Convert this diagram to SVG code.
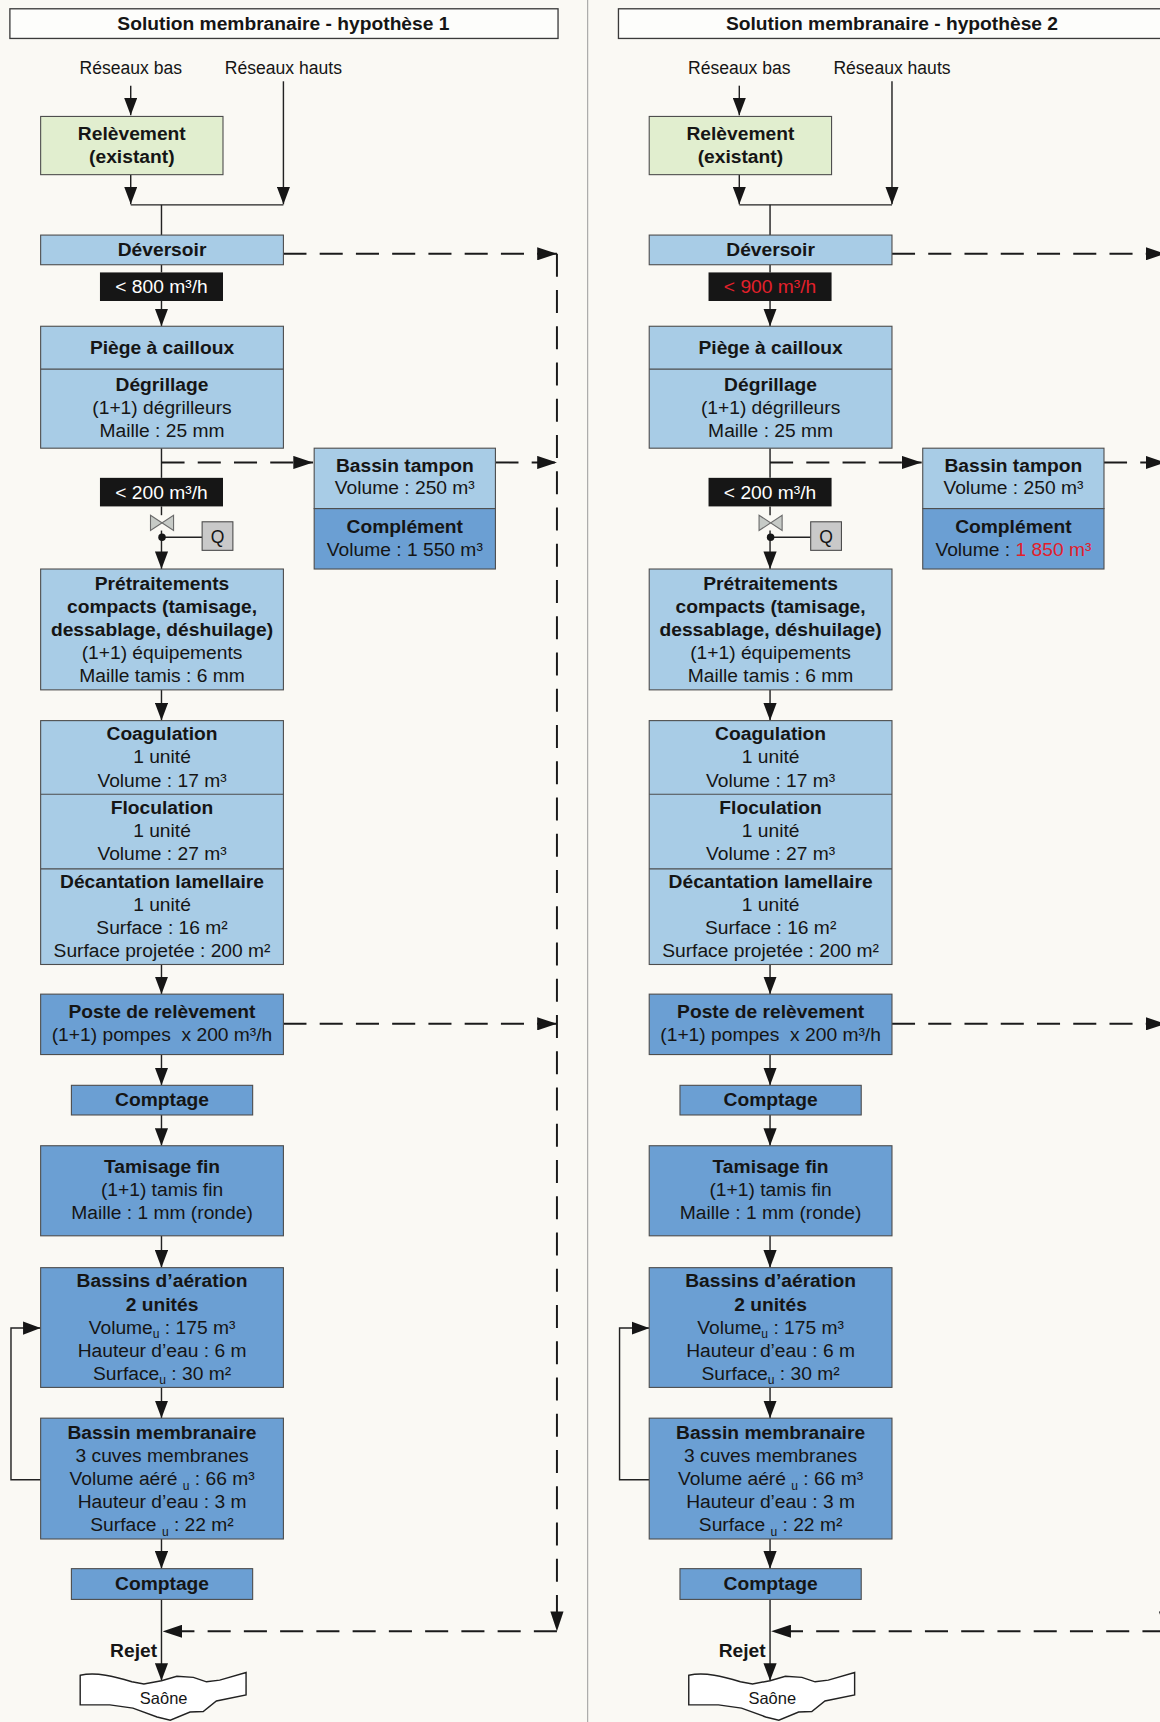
<svg xmlns="http://www.w3.org/2000/svg" width="1160" height="1722" viewBox="0 0 1160 1722">
<style>
text{font-family:"Liberation Sans",Arial,sans-serif;font-size:17.5px;fill:#151515;text-anchor:middle}
.b{font-weight:bold}
.w{fill:#ffffff}
.red{fill:#e3202b}
.sm{font-size:16px}
.sub{font-size:11px}
.lb{fill:#a8cce6;stroke:#4d4d4d;stroke-width:1}
.mb{fill:#6b9fd3;stroke:#4d4d4d;stroke-width:1}
.gr{fill:#e1eecf;stroke:#4d4d4d;stroke-width:1}
.blk{fill:#161616}
.tb{fill:#fdfdfb;stroke:#3a3a3a;stroke-width:1.2}
.div{stroke:#4d4d4d;stroke-width:1}
.ln{fill:none;stroke:#222;stroke-width:1.3}
.ds{fill:none;stroke:#1a1a1a;stroke-width:1.8;stroke-dasharray:21 12}
.valve{fill:#c6cac6;stroke:#6a6a6a;stroke-width:1}
.qb{fill:#c9c9c9;stroke:#4d4d4d;stroke-width:1}
.saone{fill:#ffffff;stroke:#222;stroke-width:1.3}
</style>
<defs>
<marker id="ah" viewBox="0 0 16 12" refX="16" refY="6" markerWidth="16" markerHeight="12" markerUnits="userSpaceOnUse" orient="auto"><path d="M0,0 L16,6 L0,12 z" fill="#161616"/></marker>
<marker id="ahd" viewBox="0 0 18 12" refX="18" refY="6" markerWidth="18" markerHeight="12" markerUnits="userSpaceOnUse" orient="auto"><path d="M0,0 L18,6 L0,12 z" fill="#161616"/></marker>
</defs>
<rect width="1160" height="1722" fill="#faf9f4"/>
<g transform="scale(1.0985)">
<line x1="535" y1="0" x2="535" y2="1568" stroke="#9a9a9a" stroke-width="0.9"/>

<!-- ================= COLUMN 1 ================= -->
<g id="col1">
<g id="c1-connectors">
<path class="ln" d="M119,78 V105" marker-end="url(#ah)"/>
<path class="ln" d="M258,74 V186" marker-end="url(#ah)"/>
<path class="ln" d="M119,159 V186" marker-end="url(#ah)"/>
<path class="ln" d="M119,186.5 H258"/>
<path class="ln" d="M147,186.5 V214"/>
<path class="ln" d="M147,241 V248"/>
<path class="ln" d="M147,274 V297" marker-end="url(#ah)"/>
<path class="ln" d="M147,408 V435"/>
<path class="ln" d="M147,461 V469"/>
<path class="ln" d="M147,483 V518" marker-end="url(#ah)"/>
<path class="ln" d="M147,489 H184"/>
<circle cx="147.5" cy="489" r="3.4" fill="#161616"/>
<path class="ln" d="M147,628 V656" marker-end="url(#ah)"/>
<path class="ln" d="M147,878 V905" marker-end="url(#ah)"/>
<path class="ln" d="M147,960 V988" marker-end="url(#ah)"/>
<path class="ln" d="M147,1015 V1043" marker-end="url(#ah)"/>
<path class="ln" d="M147,1125 V1154" marker-end="url(#ah)"/>
<path class="ln" d="M147,1263 V1291" marker-end="url(#ah)"/>
<path class="ln" d="M147,1401 V1428" marker-end="url(#ah)"/>
<path class="ln" d="M147,1456 V1530" marker-end="url(#ah)"/>
<path class="ln" d="M37,1347 H10 V1209 H37" marker-end="url(#ah)"/>
<path class="ds" d="M147,421 H285" marker-end="url(#ahd)"/>
<path class="ds" d="M258,231 H507" marker-end="url(#ahd)"/>
<path class="ds" d="M451,421 H507" marker-end="url(#ahd)"/>
<path class="ds" d="M258,932 H507" marker-end="url(#ahd)"/>
<path class="ds" d="M507,231 V1485" marker-end="url(#ahd)"/>
<path class="ds" d="M507,1485 H148" marker-end="url(#ahd)"/>
</g>

<g id="c1-title"><rect class="tb" x="9" y="8" width="499" height="27"/><text class="b" x="258" y="27">Solution membranaire - hypothèse 1</text></g>
<g id="c1-reseaux-bas"><text class="sm" x="119" y="67.5">Réseaux bas</text></g>
<g id="c1-reseaux-hauts"><text class="sm" x="258" y="67.5">Réseaux hauts</text></g>
<g id="c1-relevement"><rect class="gr" x="37" y="106" width="166" height="53"/><text class="b" x="120" y="127">Relèvement</text><text class="b" x="120" y="148">(existant)</text></g>
<g id="c1-deversoir"><rect class="lb" x="37" y="214" width="221" height="27"/><text class="b" x="147.5" y="233">Déversoir</text></g>
<g id="c1-q800"><rect class="blk" x="91" y="248" width="112" height="26"/><text class="w" x="147" y="267">&lt; 800 m³/h</text></g>
<g id="c1-piege"><rect class="lb" x="37" y="297" width="221" height="111"/><line class="div" x1="37" y1="336" x2="258" y2="336"/>
<text class="b" x="147.5" y="322">Piège à cailloux</text>
<text class="b" x="147.5" y="356">Dégrillage</text>
<text x="147.5" y="377">(1+1) dégrilleurs</text>
<text x="147.5" y="398">Maille : 25 mm</text></g>
<g id="c1-tampon"><rect class="lb" x="286" y="408" width="165" height="55"/><rect class="mb" x="286" y="463" width="165" height="55"/>
<text class="b" x="368.5" y="430">Bassin tampon</text>
<text x="368.5" y="450">Volume : 250 m³</text>
<text class="b" x="368.5" y="485">Complément</text>
<text x="368.5" y="506">Volume : 1 550 m³</text></g>
<g id="c1-q200"><rect class="blk" x="91" y="435" width="112" height="26"/><text class="w" x="147" y="454">&lt; 200 m³/h</text></g>
<g id="c1-vanne"><path class="valve" d="M137,469 L158,483 L158,469 L137,483 Z"/></g>
<g id="c1-Q"><rect class="qb" x="184" y="475" width="28" height="26"/><text x="198" y="494" style="font-size:16px">Q</text></g>
<g id="c1-pretrait"><rect class="lb" x="37" y="518" width="221" height="110"/>
<text class="b" x="147.5" y="537">Prétraitements</text>
<text class="b" x="147.5" y="558">compacts (tamisage,</text>
<text class="b" x="147.5" y="579">dessablage, déshuilage)</text>
<text x="147.5" y="600">(1+1) équipements</text>
<text x="147.5" y="621">Maille tamis : 6 mm</text></g>
<g id="c1-coag"><rect class="lb" x="37" y="656" width="221" height="222"/>
<line class="div" x1="37" y1="723" x2="258" y2="723"/><line class="div" x1="37" y1="791" x2="258" y2="791"/>
<text class="b" x="147.5" y="674">Coagulation</text>
<text x="147.5" y="695">1 unité</text>
<text x="147.5" y="716">Volume : 17 m³</text>
<text class="b" x="147.5" y="741">Floculation</text>
<text x="147.5" y="762">1 unité</text>
<text x="147.5" y="783">Volume : 27 m³</text>
<text class="b" x="147.5" y="808">Décantation lamellaire</text>
<text x="147.5" y="829">1 unité</text>
<text x="147.5" y="850">Surface : 16 m²</text>
<text x="147.5" y="871">Surface projetée : 200 m²</text></g>
<g id="c1-poste"><rect class="mb" x="37" y="905" width="221" height="55"/>
<text class="b" x="147.5" y="927">Poste de relèvement</text>
<text x="147.5" y="948">(1+1) pompes&#160; x 200 m³/h</text></g>
<g id="c1-comptage1"><rect class="mb" x="65" y="988" width="165" height="27"/><text class="b" x="147.5" y="1007">Comptage</text></g>
<g id="c1-tamis"><rect class="mb" x="37" y="1043" width="221" height="82"/>
<text class="b" x="147.5" y="1068">Tamisage fin</text>
<text x="147.5" y="1089">(1+1) tamis fin</text>
<text x="147.5" y="1110">Maille : 1 mm (ronde)</text></g>
<g id="c1-aeration"><rect class="mb" x="37" y="1154" width="221" height="109"/>
<text class="b" x="147.5" y="1172">Bassins d’aération</text>
<text class="b" x="147.5" y="1193">2 unités</text>
<text x="147.5" y="1214">Volume<tspan class="sub" dy="4">u</tspan><tspan dy="-4"> : 175 m³</tspan></text>
<text x="147.5" y="1235">Hauteur d’eau : 6 m</text>
<text x="147.5" y="1256">Surface<tspan class="sub" dy="4">u</tspan><tspan dy="-4"> : 30 m²</tspan></text></g>
<g id="c1-membranaire"><rect class="mb" x="37" y="1291" width="221" height="110"/>
<text class="b" x="147.5" y="1310">Bassin membranaire</text>
<text x="147.5" y="1331">3 cuves membranes</text>
<text x="147.5" y="1352">Volume aéré <tspan class="sub" dy="4">u</tspan><tspan dy="-4"> : 66 m³</tspan></text>
<text x="147.5" y="1373">Hauteur d’eau : 3 m</text>
<text x="147.5" y="1394">Surface <tspan class="sub" dy="4">u</tspan><tspan dy="-4"> : 22 m²</tspan></text></g>
<g id="c1-comptage2"><rect class="mb" x="65" y="1428" width="165" height="28"/><text class="b" x="147.5" y="1447">Comptage</text></g>
<g id="c1-rejet"><text class="b" x="143" y="1508" style="text-anchor:end">Rejet</text></g>
<g id="c1-saone"><path class="saone" d="M73,1525 C88,1522 104,1526 120,1531 L131,1533 L147,1530 L161,1526 L176,1527 L188,1531 L200,1529.5 L224,1522.5 L224,1543 L197,1548.5 L185,1558 L173,1558.5 L155,1566 L143,1563 L121,1555 L100,1552 L73,1552 Z"/>
<text x="149" y="1551" style="font-size:15px">Saône</text></g>
</g>

<!-- ================= COLUMN 2 ================= -->
<g id="col2" transform="translate(554,0)">
<g id="c2-connectors">
<path class="ln" d="M119,78 V105" marker-end="url(#ah)"/>
<path class="ln" d="M258,74 V186" marker-end="url(#ah)"/>
<path class="ln" d="M119,159 V186" marker-end="url(#ah)"/>
<path class="ln" d="M119,186.5 H258"/>
<path class="ln" d="M147,186.5 V214"/>
<path class="ln" d="M147,241 V248"/>
<path class="ln" d="M147,274 V297" marker-end="url(#ah)"/>
<path class="ln" d="M147,408 V435"/>
<path class="ln" d="M147,461 V469"/>
<path class="ln" d="M147,483 V518" marker-end="url(#ah)"/>
<path class="ln" d="M147,489 H184"/>
<circle cx="147.5" cy="489" r="3.4" fill="#161616"/>
<path class="ln" d="M147,628 V656" marker-end="url(#ah)"/>
<path class="ln" d="M147,878 V905" marker-end="url(#ah)"/>
<path class="ln" d="M147,960 V988" marker-end="url(#ah)"/>
<path class="ln" d="M147,1015 V1043" marker-end="url(#ah)"/>
<path class="ln" d="M147,1125 V1154" marker-end="url(#ah)"/>
<path class="ln" d="M147,1263 V1291" marker-end="url(#ah)"/>
<path class="ln" d="M147,1401 V1428" marker-end="url(#ah)"/>
<path class="ln" d="M147,1456 V1530" marker-end="url(#ah)"/>
<path class="ln" d="M37,1347 H10 V1209 H37" marker-end="url(#ah)"/>
<path class="ds" d="M147,421 H285" marker-end="url(#ahd)"/>
<path class="ds" d="M258,231 H507" marker-end="url(#ahd)"/>
<path class="ds" d="M451,421 H507" marker-end="url(#ahd)"/>
<path class="ds" d="M258,932 H507" marker-end="url(#ahd)"/>
<path class="ds" d="M507,231 V1485" marker-end="url(#ahd)"/>
<path class="ds" d="M507,1485 H148" marker-end="url(#ahd)"/>
</g>

<g id="c2-title"><rect class="tb" x="9" y="8" width="499" height="27"/><text class="b" x="258" y="27">Solution membranaire - hypothèse 2</text></g>
<g id="c2-reseaux-bas"><text class="sm" x="119" y="67.5">Réseaux bas</text></g>
<g id="c2-reseaux-hauts"><text class="sm" x="258" y="67.5">Réseaux hauts</text></g>
<g id="c2-relevement"><rect class="gr" x="37" y="106" width="166" height="53"/><text class="b" x="120" y="127">Relèvement</text><text class="b" x="120" y="148">(existant)</text></g>
<g id="c2-deversoir"><rect class="lb" x="37" y="214" width="221" height="27"/><text class="b" x="147.5" y="233">Déversoir</text></g>
<g id="c2-q900"><rect class="blk" x="91" y="248" width="112" height="26"/><text class="red" x="147" y="267">&lt; 900 m³/h</text></g>
<g id="c2-piege"><rect class="lb" x="37" y="297" width="221" height="111"/><line class="div" x1="37" y1="336" x2="258" y2="336"/>
<text class="b" x="147.5" y="322">Piège à cailloux</text>
<text class="b" x="147.5" y="356">Dégrillage</text>
<text x="147.5" y="377">(1+1) dégrilleurs</text>
<text x="147.5" y="398">Maille : 25 mm</text></g>
<g id="c2-tampon"><rect class="lb" x="286" y="408" width="165" height="55"/><rect class="mb" x="286" y="463" width="165" height="55"/>
<text class="b" x="368.5" y="430">Bassin tampon</text>
<text x="368.5" y="450">Volume : 250 m³</text>
<text class="b" x="368.5" y="485">Complément</text>
<text x="368.5" y="506">Volume : <tspan class="red">1 850 m³</tspan></text></g>
<g id="c2-q200"><rect class="blk" x="91" y="435" width="112" height="26"/><text class="w" x="147" y="454">&lt; 200 m³/h</text></g>
<g id="c2-vanne"><path class="valve" d="M137,469 L158,483 L158,469 L137,483 Z"/></g>
<g id="c2-Q"><rect class="qb" x="184" y="475" width="28" height="26"/><text x="198" y="494" style="font-size:16px">Q</text></g>
<g id="c2-pretrait"><rect class="lb" x="37" y="518" width="221" height="110"/>
<text class="b" x="147.5" y="537">Prétraitements</text>
<text class="b" x="147.5" y="558">compacts (tamisage,</text>
<text class="b" x="147.5" y="579">dessablage, déshuilage)</text>
<text x="147.5" y="600">(1+1) équipements</text>
<text x="147.5" y="621">Maille tamis : 6 mm</text></g>
<g id="c2-coag"><rect class="lb" x="37" y="656" width="221" height="222"/>
<line class="div" x1="37" y1="723" x2="258" y2="723"/><line class="div" x1="37" y1="791" x2="258" y2="791"/>
<text class="b" x="147.5" y="674">Coagulation</text>
<text x="147.5" y="695">1 unité</text>
<text x="147.5" y="716">Volume : 17 m³</text>
<text class="b" x="147.5" y="741">Floculation</text>
<text x="147.5" y="762">1 unité</text>
<text x="147.5" y="783">Volume : 27 m³</text>
<text class="b" x="147.5" y="808">Décantation lamellaire</text>
<text x="147.5" y="829">1 unité</text>
<text x="147.5" y="850">Surface : 16 m²</text>
<text x="147.5" y="871">Surface projetée : 200 m²</text></g>
<g id="c2-poste"><rect class="mb" x="37" y="905" width="221" height="55"/>
<text class="b" x="147.5" y="927">Poste de relèvement</text>
<text x="147.5" y="948">(1+1) pompes&#160; x 200 m³/h</text></g>
<g id="c2-comptage1"><rect class="mb" x="65" y="988" width="165" height="27"/><text class="b" x="147.5" y="1007">Comptage</text></g>
<g id="c2-tamis"><rect class="mb" x="37" y="1043" width="221" height="82"/>
<text class="b" x="147.5" y="1068">Tamisage fin</text>
<text x="147.5" y="1089">(1+1) tamis fin</text>
<text x="147.5" y="1110">Maille : 1 mm (ronde)</text></g>
<g id="c2-aeration"><rect class="mb" x="37" y="1154" width="221" height="109"/>
<text class="b" x="147.5" y="1172">Bassins d’aération</text>
<text class="b" x="147.5" y="1193">2 unités</text>
<text x="147.5" y="1214">Volume<tspan class="sub" dy="4">u</tspan><tspan dy="-4"> : 175 m³</tspan></text>
<text x="147.5" y="1235">Hauteur d’eau : 6 m</text>
<text x="147.5" y="1256">Surface<tspan class="sub" dy="4">u</tspan><tspan dy="-4"> : 30 m²</tspan></text></g>
<g id="c2-membranaire"><rect class="mb" x="37" y="1291" width="221" height="110"/>
<text class="b" x="147.5" y="1310">Bassin membranaire</text>
<text x="147.5" y="1331">3 cuves membranes</text>
<text x="147.5" y="1352">Volume aéré <tspan class="sub" dy="4">u</tspan><tspan dy="-4"> : 66 m³</tspan></text>
<text x="147.5" y="1373">Hauteur d’eau : 3 m</text>
<text x="147.5" y="1394">Surface <tspan class="sub" dy="4">u</tspan><tspan dy="-4"> : 22 m²</tspan></text></g>
<g id="c2-comptage2"><rect class="mb" x="65" y="1428" width="165" height="28"/><text class="b" x="147.5" y="1447">Comptage</text></g>
<g id="c2-rejet"><text class="b" x="143" y="1508" style="text-anchor:end">Rejet</text></g>
<g id="c2-saone"><path class="saone" d="M73,1525 C88,1522 104,1526 120,1531 L131,1533 L147,1530 L161,1526 L176,1527 L188,1531 L200,1529.5 L224,1522.5 L224,1543 L197,1548.5 L185,1558 L173,1558.5 L155,1566 L143,1563 L121,1555 L100,1552 L73,1552 Z"/>
<text x="149" y="1551" style="font-size:15px">Saône</text></g>
</g>
</g>
</svg>
